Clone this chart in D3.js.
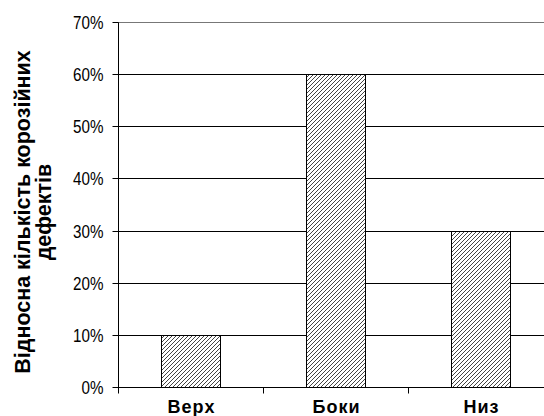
<!DOCTYPE html>
<html>
<head>
<meta charset="utf-8">
<script src="https://cdn.jsdelivr.net/npm/d3@7"></script>
<style>
  html, body { margin: 0; padding: 0; background: #fff; }
  svg { display: block; }
  .tick-label { font-family: "Liberation Sans", Arial, sans-serif; font-size: 19px; fill: #000; }
  .cat-label { font-family: "Liberation Sans", Arial, sans-serif; font-size: 18px; font-weight: bold; fill: #000; letter-spacing: 1px; }
  .axis-title { font-family: "Liberation Sans", Arial, sans-serif; font-size: 21.5px; font-weight: bold; fill: #000; }
</style>
</head>
<body>
<svg id="chart" width="544" height="416"></svg>
<script>
// Chart data
const categories = ['Верх', 'Боки', 'Низ'];
const values = [0.10, 0.60, 0.30];
const yTicks = [0, 0.1, 0.2, 0.3, 0.4, 0.5, 0.6, 0.7];
const titleLines = ['Відносна кількість корозійних', 'дефектів'];

const svg = d3.select('#chart');
const margin = { top: 22, left: 118, bottom: 29 };
const plotRight = 553; // plot runs past the right edge, as in the original
const plotBottom = 416 - margin.bottom;

const x = d3.scaleBand()
    .domain(categories)
    .range([margin.left, plotRight])
    .paddingInner(0)
    .paddingOuter(0);

const y = d3.scaleLinear()
    .domain([0, 0.7])
    .range([plotBottom, margin.top]);

// Hatch pattern for the bars (white ground, dark diagonals)
const defs = svg.append('defs');
const pat = defs.append('pattern')
    .attr('id', 'hatch')
    .attr('patternUnits', 'userSpaceOnUse')
    .attr('width', 4)
    .attr('height', 4);
pat.append('rect')
    .attr('width', 4)
    .attr('height', 4)
    .attr('fill', '#fff');
pat.append('path')
    .attr('d', 'M-1,1 l2,-2 M0,4 l4,-4 M3,5 l2,-2')
    .attr('stroke', '#444')
    .attr('stroke-width', 1);

// Gridlines
svg.append('g')
    .selectAll('line')
    .data(yTicks.slice(1))
  .join('line')
    .attr('x1', margin.left)
    .attr('x2', plotRight)
    .attr('y1', d => Math.round(y(d)) + 0.5)
    .attr('y2', d => Math.round(y(d)) + 0.5)
    .attr('stroke', (d, i, n) => i === n.length - 1 ? '#777' : '#000')
    .attr('stroke-width', 1);

// Bars
const barWidth = 59;
svg.append('g')
    .selectAll('rect')
    .data(values)
  .join('rect')
    .attr('x', (d, i) => Math.round(x(categories[i]) + (x.bandwidth() - barWidth) / 2) + 0.5)
    .attr('y', d => Math.round(y(d)) + 0.5)
    .attr('width', barWidth)
    .attr('height', d => Math.round(y(0)) - Math.round(y(d)))
    .attr('fill', 'url(#hatch)')
    .attr('stroke', '#000')
    .attr('stroke-width', 1);

// Y axis
const yAxis = d3.axisLeft(y)
    .tickValues(yTicks)
    .tickFormat(d3.format('.0%'))
    .tickSize(6)
    .tickPadding(9);

const yAxisG = svg.append('g')
    .attr('transform', `translate(${margin.left + 0.5},0.5)`)
    .call(yAxis);
yAxisG.select('.domain').attr('d', `M0,${Math.round(y(0.7))}V${Math.round(y(0)) + 6}`);
yAxisG.selectAll('.tick').attr('transform', d => `translate(0,${Math.round(y(d))})`);
// narrow look of the tick font
const squeeze = 0.8;
yAxisG.selectAll('.tick text')
    .attr('class', 'tick-label')
    .attr('x', -15 / squeeze)
    .attr('transform', `scale(${squeeze},1)`);

// X axis
const xAxis = d3.axisBottom(x)
    .tickValues([])
    .tickSizeOuter(0);
const xAxisG = svg.append('g')
    .attr('transform', `translate(0.5,${Math.round(y(0)) + 0.5})`)
    .call(xAxis);
xAxisG.select('.domain').attr('d', `M${margin.left},0H${plotRight}`);

// Category boundary ticks
xAxisG.selectAll('.bound')
    .data(categories.slice(1))
  .join('line')
    .attr('class', 'bound')
    .attr('x1', d => Math.round(x(d)))
    .attr('x2', d => Math.round(x(d)))
    .attr('y1', 0)
    .attr('y2', 6)
    .attr('stroke', '#000');

// Category labels
svg.append('g')
    .selectAll('text')
    .data(categories)
  .join('text')
    .attr('class', 'cat-label')
    .attr('x', d => x(d) + x.bandwidth() / 2 + 1)
    .attr('y', 413)
    .attr('text-anchor', 'middle')
    .text(d => d);

// Y axis title (two lines, rotated)
const title = svg.append('text')
    .attr('class', 'axis-title')
    .attr('transform', 'translate(30,212) rotate(-90)')
    .attr('text-anchor', 'middle');
title.selectAll('tspan')
    .data(titleLines)
  .join('tspan')
    .attr('x', 0)
    .attr('dy', (d, i) => i === 0 ? 0 : 21)
    .text(d => d);
</script>
</body>
</html>
